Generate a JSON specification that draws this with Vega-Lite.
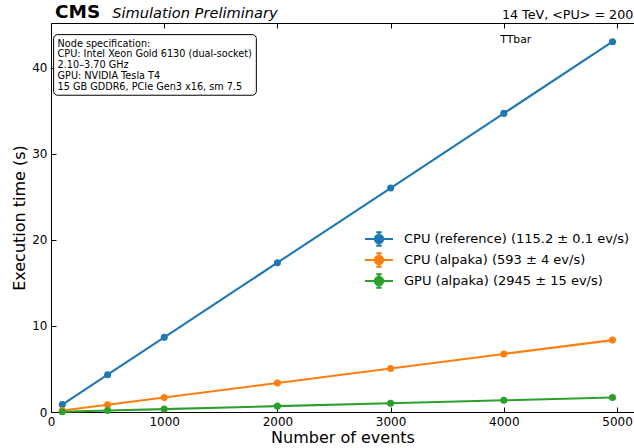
{
  "$schema": "https://vega.github.io/schema/vega-lite/v6.json",
  "width": 583,
  "height": 389,
  "autosize": {"type": "none"},
  "padding": {"left": 51, "top": 23, "right": 0, "bottom": 36},
  "background": "white",
  "config": {
    "font": "DejaVu Sans",
    "view": {"stroke": null},
    "axis": {
      "domainColor": "black",
      "domainWidth": 1,
      "tickColor": "black",
      "tickWidth": 1,
      "tickSize": -5,
      "labelPadding": 9,
      "labelFlush": false,
      "labelFont": "DejaVu Sans",
      "labelFontSize": 12,
      "labelColor": "black",
      "titleFont": "DejaVu Sans",
      "titleFontSize": 16,
      "titleFontWeight": "normal",
      "titleColor": "black",
      "grid": false
    },
    "legend": {
      "orient": "none",
      "legendX": 318,
      "legendY": 206,
      "padding": 0,
      "labelFont": "DejaVu Sans",
      "labelFontSize": 13,
      "labelColor": "black",
      "labelOffset": 15,
      "labelLimit": 0,
      "rowPadding": -3,
      "symbolSize": 324,
      "symbolStrokeWidth": 2,
      "symbolType": "M-1.556,0H1.556M0,-0.744V0.744M-0.311,-0.744H0.311M-0.311,0.744H0.311M0.467,0A0.467,0.467,0,1,1,-0.467,0A0.467,0.467,0,1,1,0.467,0Z"
    }
  },
  "datasets": {
    "perf": [
      {"series": "CPU (reference) (115.2 ± 0.1 ev/s)", "events": 100, "time": 0.87},
      {"series": "CPU (reference) (115.2 ± 0.1 ev/s)", "events": 500, "time": 4.34},
      {"series": "CPU (reference) (115.2 ± 0.1 ev/s)", "events": 1000, "time": 8.68},
      {"series": "CPU (reference) (115.2 ± 0.1 ev/s)", "events": 2000, "time": 17.36},
      {"series": "CPU (reference) (115.2 ± 0.1 ev/s)", "events": 3000, "time": 26.04},
      {"series": "CPU (reference) (115.2 ± 0.1 ev/s)", "events": 4000, "time": 34.72},
      {"series": "CPU (reference) (115.2 ± 0.1 ev/s)", "events": 4960, "time": 43.06},
      {"series": "CPU (alpaka) (593 ± 4 ev/s)", "events": 100, "time": 0.17},
      {"series": "CPU (alpaka) (593 ± 4 ev/s)", "events": 500, "time": 0.84},
      {"series": "CPU (alpaka) (593 ± 4 ev/s)", "events": 1000, "time": 1.69},
      {"series": "CPU (alpaka) (593 ± 4 ev/s)", "events": 2000, "time": 3.37},
      {"series": "CPU (alpaka) (593 ± 4 ev/s)", "events": 3000, "time": 5.06},
      {"series": "CPU (alpaka) (593 ± 4 ev/s)", "events": 4000, "time": 6.75},
      {"series": "CPU (alpaka) (593 ± 4 ev/s)", "events": 4960, "time": 8.36},
      {"series": "GPU (alpaka) (2945 ± 15 ev/s)", "events": 100, "time": 0.034},
      {"series": "GPU (alpaka) (2945 ± 15 ev/s)", "events": 500, "time": 0.17},
      {"series": "GPU (alpaka) (2945 ± 15 ev/s)", "events": 1000, "time": 0.34},
      {"series": "GPU (alpaka) (2945 ± 15 ev/s)", "events": 2000, "time": 0.68},
      {"series": "GPU (alpaka) (2945 ± 15 ev/s)", "events": 3000, "time": 1.02},
      {"series": "GPU (alpaka) (2945 ± 15 ev/s)", "events": 4000, "time": 1.36},
      {"series": "GPU (alpaka) (2945 ± 15 ev/s)", "events": 4960, "time": 1.68}
    ],
    "labels": [
      {"text": "CMS", "x": 35, "y": 45.86, "kind": "cms"},
      {"text": "Simulation Preliminary", "x": 541, "y": 45.78, "kind": "sim"},
      {"text": "14 TeV, <PU> = 200", "x": 5144, "y": 45.66, "kind": "energy"},
      {"text": "TTbar", "x": 3969, "y": 42.87, "kind": "ttbar"}
    ],
    "box": [
      {"x": 23, "x2": 1814, "y": 43.88, "y2": 36.83, "text": ["Node specification:", "CPU: Intel Xeon Gold 6130 (dual-socket)", "2.10–3.70 GHz", "GPU: NVIDIA Tesla T4", "15 GB GDDR6, PCIe Gen3 x16, sm 7.5"], "tx": 58, "ty": 42.48}
    ]
  },
  "resolve": {"axis": {"x": "independent", "y": "independent"}},
  "layer": [
    {
      "data": {"name": "perf"},
      "mark": {"type": "line", "strokeWidth": 2.1},
      "encoding": {
        "x": {
          "field": "events", "type": "quantitative",
          "scale": {"domain": [0, 5150], "nice": false, "zero": false},
          "axis": {"orient": "bottom", "values": [0, 1000, 2000, 3000, 4000, 5000], "format": "d", "title": "Number of events", "titlePadding": 2}
        },
        "y": {
          "field": "time", "type": "quantitative",
          "scale": {"domain": [0, 45.23], "nice": false, "zero": false},
          "axis": {"orient": "left", "values": [0, 10, 20, 30, 40], "format": "d", "title": "Execution time (s)", "titlePadding": 4}
        },
        "color": {
          "field": "series", "type": "nominal",
          "scale": {
            "domain": ["CPU (reference) (115.2 ± 0.1 ev/s)", "CPU (alpaka) (593 ± 4 ev/s)", "GPU (alpaka) (2945 ± 15 ev/s)"],
            "range": ["#1f77b4", "#ff7f0e", "#2ca02c"]
          },
          "legend": {
            "title": null,
            "encode": {
              "symbols": {
                "update": {
                  "fill": {"scale": "color", "field": "value"},
                  "stroke": {"scale": "color", "field": "value"},
                  "strokeWidth": {"value": 2},
                  "opacity": {"value": 1}
                }
              }
            }
          }
        }
      }
    },
    {
      "data": {"name": "perf"},
      "mark": {"type": "point", "filled": true, "size": 50, "opacity": 1},
      "encoding": {
        "x": {"field": "events", "type": "quantitative", "axis": null},
        "y": {"field": "time", "type": "quantitative", "axis": null},
        "color": {"field": "series", "type": "nominal"}
      }
    },
    {
      "data": {"name": "perf"},
      "mark": {"type": "point", "opacity": 0},
      "encoding": {
        "x": {
          "field": "events", "type": "quantitative",
          "axis": {"orient": "top", "values": [0, 1000, 2000, 3000, 4000, 5000], "labels": false, "title": null}
        },
        "y": {"field": "time", "type": "quantitative", "axis": null}
      }
    },
    {
      "data": {"name": "box"},
      "mark": {"type": "rect", "fill": "white", "stroke": "black", "strokeWidth": 1, "cornerRadius": 4},
      "encoding": {
        "x": {"field": "x", "type": "quantitative", "axis": null},
        "x2": {"field": "x2"},
        "y": {"field": "y", "type": "quantitative", "axis": null},
        "y2": {"field": "y2"}
      }
    },
    {
      "data": {"name": "box"},
      "mark": {"type": "text", "align": "left", "baseline": "alphabetic", "fontSize": 9.7, "lineHeight": 10.75, "font": "DejaVu Sans", "color": "black"},
      "encoding": {
        "x": {"field": "tx", "type": "quantitative", "axis": null},
        "y": {"field": "ty", "type": "quantitative", "axis": null},
        "text": {"field": "text"}
      }
    },
    {
      "data": {"name": "labels"},
      "transform": [{"filter": "datum.kind == 'cms'"}],
      "mark": {"type": "text", "align": "left", "baseline": "alphabetic", "fontSize": 18.5, "fontWeight": "bold", "font": "DejaVu Sans", "color": "black"},
      "encoding": {
        "x": {"field": "x", "type": "quantitative", "axis": null},
        "y": {"field": "y", "type": "quantitative", "axis": null},
        "text": {"field": "text"}
      }
    },
    {
      "data": {"name": "labels"},
      "transform": [{"filter": "datum.kind == 'sim'"}],
      "mark": {"type": "text", "align": "left", "baseline": "alphabetic", "fontSize": 14.6, "fontStyle": "italic", "font": "DejaVu Sans", "color": "black"},
      "encoding": {
        "x": {"field": "x", "type": "quantitative", "axis": null},
        "y": {"field": "y", "type": "quantitative", "axis": null},
        "text": {"field": "text"}
      }
    },
    {
      "data": {"name": "labels"},
      "transform": [{"filter": "datum.kind == 'energy'"}],
      "mark": {"type": "text", "align": "right", "baseline": "alphabetic", "fontSize": 12.7, "font": "DejaVu Sans", "color": "black"},
      "encoding": {
        "x": {"field": "x", "type": "quantitative", "axis": null},
        "y": {"field": "y", "type": "quantitative", "axis": null},
        "text": {"field": "text"}
      }
    },
    {
      "data": {"name": "labels"},
      "transform": [{"filter": "datum.kind == 'ttbar'"}],
      "mark": {"type": "text", "align": "left", "baseline": "alphabetic", "fontSize": 10.8, "font": "DejaVu Sans", "color": "black"},
      "encoding": {
        "x": {"field": "x", "type": "quantitative", "axis": null},
        "y": {"field": "y", "type": "quantitative", "axis": null},
        "text": {"field": "text"}
      }
    }
  ]
}
